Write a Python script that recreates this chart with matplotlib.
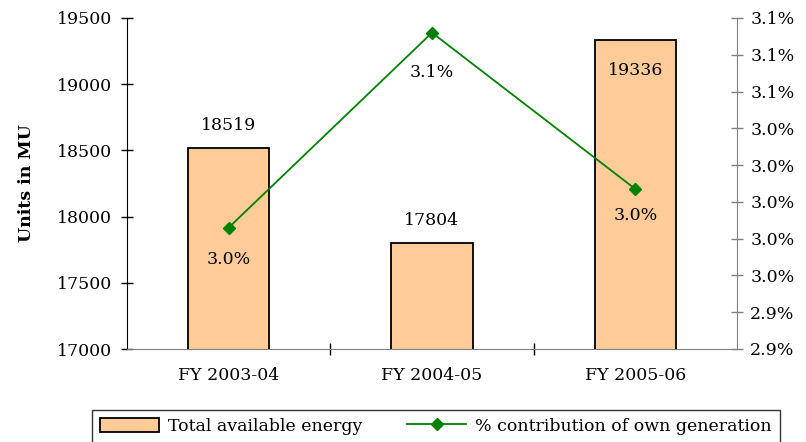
import matplotlib
matplotlib.use("Agg")
import matplotlib.pyplot as plt
from matplotlib.ticker import FuncFormatter, FixedLocator

# Energy availability by financial year
years = ["FY 2003-04", "FY 2004-05", "FY 2005-06"]
total_energy = [18519, 17804, 19336]          # Units in MU
own_gen_share = [2.986, 3.092, 3.007]          # % contribution of own generation
share_labels = ["3.0%", "3.1%", "3.0%"]

plt.rcParams["font.family"] = ["DejaVu Serif"]
FS = 12.5

fig = plt.figure(figsize=(8.06, 4.42), dpi=100)
ax = fig.add_axes([127 / 806, 1 - 349 / 442, 610 / 806, 331 / 442])
ax2 = ax.twinx()

x = list(range(len(years)))
bars = ax.bar(x, total_energy, width=0.40, color="#FFCC99", edgecolor="black",
              linewidth=1.3, label="Total available energy", zorder=2)
ax.set_xlim(-0.5, 2.5)
ax.set_ylim(17000, 19500)
ax.set_yticks([17000, 17500, 18000, 18500, 19000, 19500])
ax.set_xticks(x)
ax.set_xticklabels(years, fontsize=FS)
ax.xaxis.set_minor_locator(FixedLocator([0.5, 1.5]))
ax.tick_params(axis="x", which="major", length=0, pad=13)
ax.tick_params(axis="x", which="minor", direction="inout", length=9, width=1)
ax.tick_params(axis="y", direction="inout", length=9, width=1, labelsize=FS, pad=6)
ax.set_ylabel("Units in MU", fontsize=12.5, fontweight="bold", labelpad=16)

for s in ["top", "right"]:
    ax.spines[s].set_visible(False)
ax.spines["left"].set_color("black")
ax.spines["bottom"].set_color("#808080")

# value labels on the bars
for i, v in enumerate(total_energy):
    if v > 19200:
        ax.annotate(f"{v}", (i, v), xytext=(0, -16), textcoords="offset points",
                    ha="center", va="top", fontsize=FS)
    else:
        ax.annotate(f"{v}", (i, v), xytext=(0, 10), textcoords="offset points",
                    ha="center", va="bottom", fontsize=FS)

line, = ax2.plot(x, own_gen_share, color="#008000", linewidth=1.3, marker="D",
                 markersize=6, label="% contribution of own generation", zorder=3)
ax2.set_ylim(2.92, 3.10)
ax2.set_yticks([2.92 + 0.02 * k for k in range(10)])
ax2.yaxis.set_major_formatter(FuncFormatter(lambda v, p: f"{v:.1f}%"))
ax2.tick_params(axis="y", direction="inout", length=9, width=1, labelsize=FS,
                pad=5, color="#808080")
for s in ["top", "left", "bottom"]:
    ax2.spines[s].set_visible(False)
ax2.spines["right"].set_color("#808080")

offsets = [-23, -29, -19]
for i, (v, lab) in enumerate(zip(own_gen_share, share_labels)):
    ax2.annotate(lab, (i, v), xytext=(0, offsets[i]), textcoords="offset points",
                 ha="center", va="center", fontsize=FS)

leg = fig.legend([bars, line], ["Total available energy", "% contribution of own generation"],
                 loc="upper center", bbox_to_anchor=(436 / 806, 1 - 410 / 442), ncol=2,
                 fontsize=FS, frameon=True, fancybox=False, edgecolor="black",
                 handlelength=3.4, handleheight=0.9, columnspacing=2.6,
                 borderpad=0.45, handletextpad=0.5, borderaxespad=0.0)
leg.get_frame().set_linewidth(1.0)

fig.savefig("out.png", dpi=100)
